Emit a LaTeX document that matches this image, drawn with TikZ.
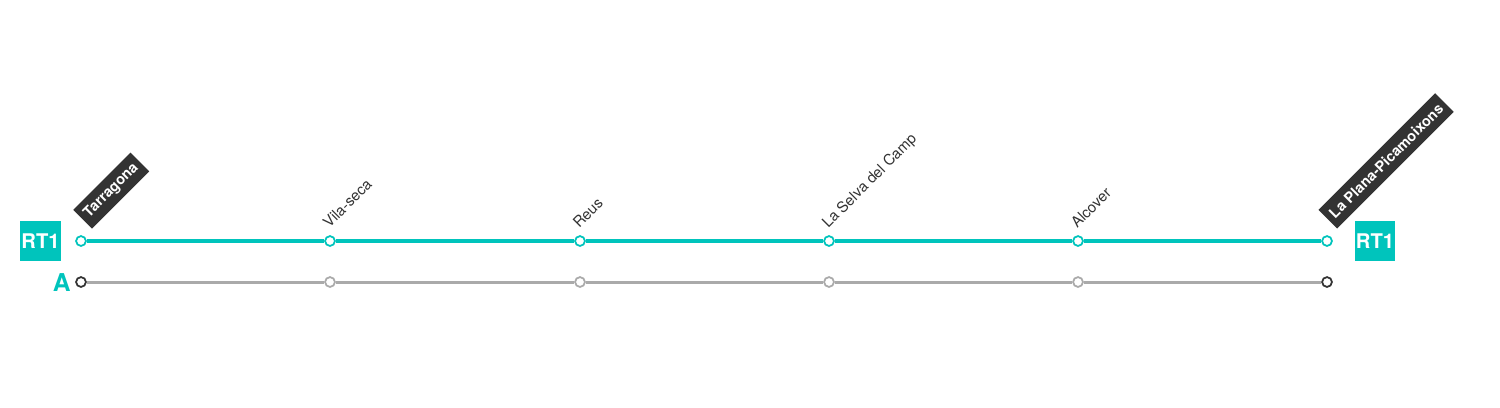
\documentclass[tikz,border=0pt]{standalone}
\usepackage{fontspec}
\setmainfont{TeX Gyre Heros}
\usetikzlibrary{calc,backgrounds,positioning}

\definecolor{rtteal}{HTML}{00C4BC}
\definecolor{rtgrey}{HTML}{AAAAAA}
\definecolor{rtdark}{HTML}{333333}

\begin{document}
\begin{tikzpicture}
[x=0.02cm,y=-0.02cm,
stop/.style={circle,draw=rtteal,fill=white,line width=1pt,inner sep=0pt,minimum size=5.6pt},
greystop/.style={stop,draw=rtgrey},
endstop/.style={stop,draw=rtdark},
lbl/.style={rotate=45,anchor=base west,inner sep=0pt,text=rtdark,font=\fontsize{8.5}{10}\selectfont},
term/.style={rotate=45,anchor=south west,fill=rtdark,text=white,inner xsep=3pt,inner ysep=0pt,
	minimum height=15pt,font=\fontsize{8.3}{10}\selectfont\bfseries},
linebox/.style={fill=rtteal,text=white,minimum width=23.2pt,minimum height=22.7pt,inner sep=0pt,
	font=\fontsize{11.5}{12}\selectfont\bfseries},
tealline/.style={rtteal,line width=2.8pt},
greyline/.style={rtgrey,line width=1.7pt}]

\fill[white] (0,0) rectangle (1500,407);
\useasboundingbox (0,0) rectangle (1500,407);

% line RT1
\node[stop] (t1) at (81,241) {};
\node[stop] (t2) at (330,241) {};
\node[stop] (t3) at (580,241) {};
\node[stop] (t4) at (829,241) {};
\node[stop] (t5) at (1078,241) {};
\node[stop] (t6) at (1327,241) {};

% line A
\node[endstop] (a1) at (81,282) {};
\node[greystop] (a2) at (330,282) {};
\node[greystop] (a3) at (580,282) {};
\node[greystop] (a4) at (829,282) {};
\node[greystop] (a5) at (1078,282) {};
\node[endstop] (a6) at (1327,282) {};

\draw[tealline] (t1) -- (t2) (t2) -- (t3) (t3) -- (t4) (t4) -- (t5) (t5) -- (t6);
\draw[greyline] (a1) -- (a2) (a2) -- (a3) (a3) -- (a4) (a4) -- (a5) (a5) -- (a6);

\node[linebox] (rtleft) at (40.5,241) {RT1};
\node[linebox] (rtright) at (1375,241) {RT1};
\node[anchor=east,inner sep=0pt,text=rtteal,font=\fontsize{14}{15}\selectfont\bfseries] (lineA) at (71,283) {A};

% station names
\node[term] (n1) at ($(t1)+(11,-12)$) {Tarragona};
\node[lbl] (n2) at ($(t2)+(-1,-12)$) {Vila-seca};
\node[lbl] (n3) at ($(t3)+(-1,-12)$) {Reus};
\node[lbl] (n4) at ($(t4)+(-1,-12)$) {La Selva del Camp};
\node[lbl] (n5) at ($(t5)+(-1,-12)$) {Alcover};
\node[term] (n6) at ($(t6)+(10,-12)$) {La Plana-Picamoixons};

\end{tikzpicture}
\end{document}
